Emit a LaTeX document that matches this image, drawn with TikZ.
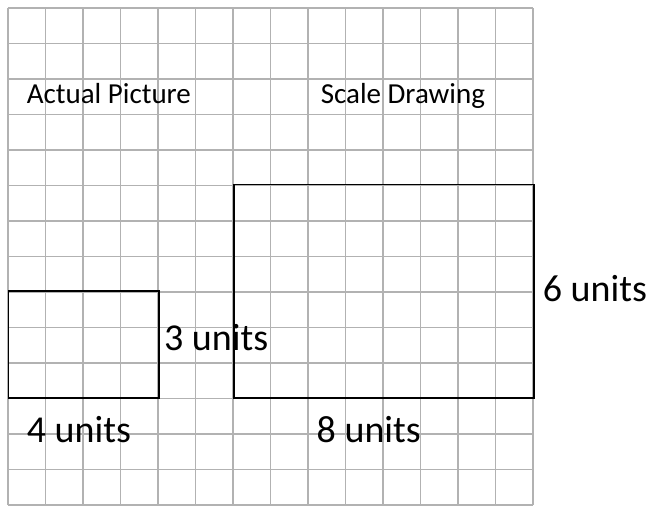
\documentclass[tikz,border=0pt]{standalone}
\usepackage{fontspec}
\setmainfont{Carlito}
\usetikzlibrary{positioning}

\begin{document}
\begin{tikzpicture}[x=37.5pt, y=35.5pt,
    gridline/.style={draw=black!30, line width=1.8pt},
    box/.style={draw=black, line width=1.5pt, inner sep=0pt, anchor=south west},
    title/.style={font=\fontsize{29}{33}\selectfont, inner sep=0pt, anchor=base},
    units/.style={font=\fontsize{38}{42}\selectfont, inner sep=0pt, anchor=base}]
    \useasboundingbox (-0.2133,-0.0282) rectangle (17.0933,14.2254);
    % grid paper
    \foreach \i in {0,...,14} {
        \draw[gridline] (\i,0) -- (\i,14);
        \draw[gridline] (0,\i) -- (14,\i);
    }
    % the two rectangles
    \node[box, minimum width=4*37.5pt, minimum height=3*35.5pt] (actual) at (0,3) {};
    \node[box, minimum width=8*37.5pt, minimum height=6*35.5pt] (scaled) at (6,3) {};
    % titles
    \node[title] (actualtitle) at (2.69,11.30) {Actual Picture};
    \node[title] (scaledtitle) at (10.53,11.30) {Scale Drawing};
    % side lengths
    \node[units] (actualh) at (5.55,4.34) {3 units};
    \node[units] (actualw) at (1.89,1.77) {4 units};
    \node[units] (scaledh) at (15.65,5.72) {6 units};
    \node[units] (scaledw) at (9.62,1.77) {8 units};
\end{tikzpicture}
\end{document}
